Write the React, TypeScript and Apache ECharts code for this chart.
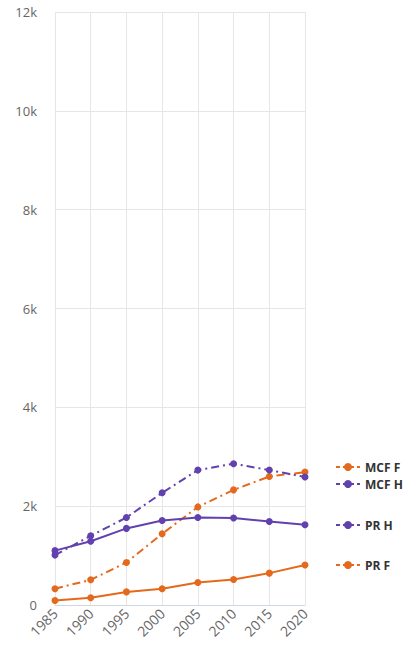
import React, { useEffect, useRef } from "react";
import * as echarts from "echarts";

const years = ["1985", "1990", "1995", "2000", "2005", "2010", "2015", "2020"];
const mcfF = [330, 510, 860, 1440, 1985, 2330, 2600, 2690];
const mcfH = [1010, 1400, 1770, 2270, 2730, 2860, 2730, 2590];
const prH = [1100, 1290, 1550, 1710, 1770, 1760, 1690, 1625];
const prF = [90, 145, 265, 330, 455, 515, 645, 810];
const yTicksMax = 12000;
const yInterval = 2000;

const ORANGE = "#E5691C";
const PURPLE = "#6241AE";

export default function App() {
  const ref = useRef<HTMLDivElement>(null);
  useEffect(() => {
    if (!ref.current) return;
    const chart = echarts.init(ref.current, undefined, { renderer: "svg" });
    const dashDot = [8, 4, 2, 4];
    const mk = (name: string, data: number[], color: string, dashed: boolean) => ({
      name,
      type: "line",
      data,
      symbol: "circle",
      symbolSize: 7,
      itemStyle: { color },
      lineStyle: { color, width: 2, type: dashed ? dashDot : "solid" },
    });
    const legendBase = {
      orient: "vertical",
      left: 330,
      itemWidth: 24,
      itemHeight: 10,
      textStyle: { fontFamily: "Open Sans", fontWeight: "bold", fontSize: 12, color: "#333" },
      lineStyle: { type: [4, 3], width: 2 },
    };
    chart.setOption({
      animation: false,
      textStyle: { fontFamily: "Open Sans" },
      grid: { left: 55, right: 98, top: 12, bottom: 50, containLabel: false },
      legend: [
        { ...legendBase, top: 456, data: ["MCF F"] },
        { ...legendBase, top: 473, data: ["MCF H"] },
        { ...legendBase, top: 514, data: ["PR H"] },
        { ...legendBase, top: 554, data: ["PR F"] },
      ],
      xAxis: {
        type: "category",
        data: years,
        boundaryGap: false,
        axisLine: { show: true, lineStyle: { color: "#cfd6e3" } },
        axisTick: { show: false },
        splitLine: { show: true, lineStyle: { color: "#e6e6e6" } },
        axisLabel: { rotate: 45, color: "#666", fontSize: 14, margin: 6 },
      },
      yAxis: {
        type: "value",
        min: 0,
        max: yTicksMax,
        interval: yInterval,
        axisLine: { show: false },
        axisTick: { show: false },
        splitLine: { lineStyle: { color: "#e6e6e6" } },
        axisLabel: {
          color: "#666",
          fontSize: 13,
          margin: 18,
          formatter: (v: number) => (v === 0 ? "0" : v / 1000 + "k"),
        },
      },
      series: [
        mk("MCF F", mcfF, ORANGE, true),
        mk("MCF H", mcfH, PURPLE, true),
        mk("PR H", prH, PURPLE, false),
        mk("PR F", prF, ORANGE, false),
      ],
    });
    return () => chart.dispose();
  }, []);
  return <div ref={ref} style={{ width: 403, height: 655, position: "absolute", left: 0, top: 0 }} />;
}
